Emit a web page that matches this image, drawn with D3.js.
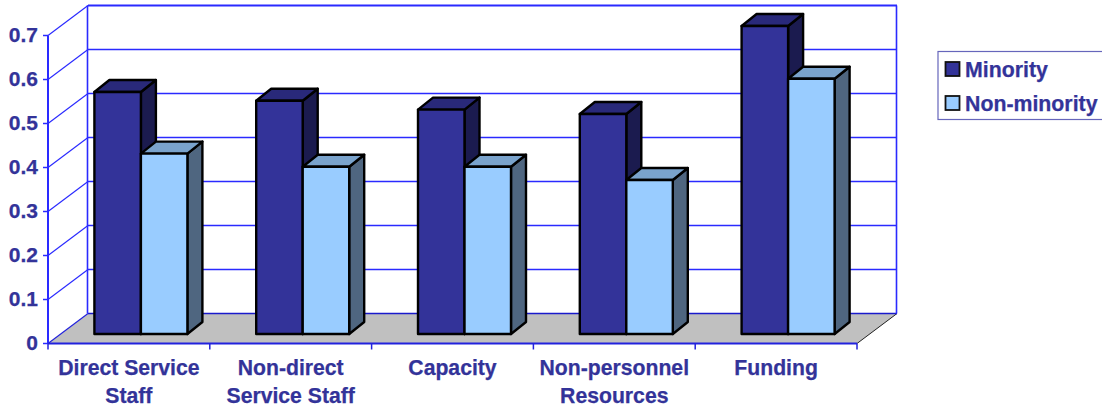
<!DOCTYPE html>
<html><head><meta charset="utf-8">
<script src="https://cdn.jsdelivr.net/npm/d3@7"></script>
<style>html,body{margin:0;padding:0;background:#fff;overflow:hidden}svg{display:block}text{font-family:"Liberation Sans",Arial,sans-serif;font-weight:bold;fill:#333399;stroke:#333399;stroke-width:0.25px}</style>
</head><body><svg id="c" width="1102" height="408"></svg>
<script>
const categories = ["Direct Service|Staff","Non-direct|Service Staff","Capacity","Non-personnel|Resources","Funding"];
const seriesNames = ["Minority","Non-minority"];
const minority = [0.55,0.53,0.51,0.50,0.70];
const nonMinority = [0.41,0.38,0.38,0.35,0.58];
const yTicks = [0,0.1,0.2,0.3,0.4,0.5,0.6,0.7];
const frontColors = ["#333399","#99ccff"];
const topColors = ["#29297a","#7aa3cc"];
const sideColors = ["#1b1b4f","#4f6680"];

const svg = d3.select("#c");
const x = d3.scaleBand().domain(categories).range([48,857]);
const y = d3.scaleLinear().domain([0,0.7]).range([343.5,35.5]);
const depth = {dx:40, dy:-30};      // wall depth
const barOff = {dx:12, dy:-9.5};    // bar front plane offset from axis plane
const barDepth = {dx:15, dy:-12};
const barW = 46.5;
const blue = "#2a2aff";
const poly = pts => pts.map(p=>p.join(",")).join(" ");

// floor
svg.append("polygon").attr("fill","#c0c0c0")
  .attr("points",poly([[48,y(0)],[48+depth.dx,y(0)+depth.dy],[857+depth.dx,y(0)+depth.dy],[857,y(0)]]));
svg.append("line").attr("x1",857).attr("y1",y(0)).attr("x2",857+depth.dx).attr("y2",y(0)+depth.dy).attr("stroke","#222").attr("stroke-width",1);

// walls + grid
yTicks.forEach(t=>{
  const top = t===0.7, w = top?2.2:1.5;
  svg.append("line").attr("x1",48).attr("y1",y(t)).attr("x2",48+depth.dx).attr("y2",y(t)+depth.dy).attr("stroke",t===0?"#2222dd":blue).attr("stroke-width",1.2);
  svg.append("line").attr("x1",48+depth.dx).attr("y1",y(t)+depth.dy).attr("x2",857+depth.dx).attr("y2",y(t)+depth.dy).attr("stroke",t===0?"#1a1acc":blue).attr("stroke-width",w);
});
svg.append("line").attr("x1",87.5).attr("x2",87.5).attr("y1",y(0.7)+depth.dy).attr("y2",y(0)+depth.dy).attr("stroke",blue).attr("stroke-width",1.6);
svg.append("line").attr("x1",896.5).attr("x2",896.5).attr("y1",y(0.7)+depth.dy).attr("y2",y(0)+depth.dy).attr("stroke",blue).attr("stroke-width",1.6);

// front axes
svg.append("line").attr("x1",48).attr("x2",48).attr("y1",y(0.7)).attr("y2",y(0)).attr("stroke",blue).attr("stroke-width",2);
svg.append("line").attr("x1",48).attr("x2",857).attr("y1",y(0)).attr("y2",y(0)).attr("stroke","#2222dd").attr("stroke-width",2);
yTicks.forEach(t=>{
  svg.append("line").attr("x1",43).attr("x2",48).attr("y1",y(t)).attr("y2",y(t)).attr("stroke",blue).attr("stroke-width",1.5);
  svg.append("text").attr("x",38).attr("y",y(t)+6.5).attr("text-anchor","end").attr("font-size",21).text(t===0?"0":t.toFixed(1));
});
[0,1,2,3,4,5].forEach(i=>{
  const px = i<5 ? x(categories[i]) : 857;
  svg.append("line").attr("x1",px).attr("x2",px).attr("y1",y(0)).attr("y2",y(0)+6).attr("stroke","#2222dd").attr("stroke-width",1.5);
});

// bars
const allSeries = [minority,nonMinority];
categories.forEach((c,i)=>{
  const cx = x(c)+x.bandwidth()/2+barOff.dx;
  allSeries.forEach((vals,s)=>{
    const x0 = cx+(s-1)*barW, x1 = x0+barW;
    const yb = y(0)+barOff.dy, yt = y(vals[i])+barOff.dy;
    const g = svg.append("g").attr("stroke","#000").attr("stroke-width",2.4).attr("stroke-linejoin","round");
    g.append("polygon").attr("fill",sideColors[s]).attr("points",poly([[x1,yt],[x1+barDepth.dx,yt+barDepth.dy],[x1+barDepth.dx,yb+barDepth.dy],[x1,yb]]));
    g.append("polygon").attr("fill",topColors[s]).attr("points",poly([[x0,yt],[x0+barDepth.dx,yt+barDepth.dy],[x1+barDepth.dx,yt+barDepth.dy],[x1,yt]]));
    g.append("rect").attr("fill",frontColors[s]).attr("x",x0).attr("y",yt).attr("width",barW).attr("height",yb-yt);
  });
});

// category labels
categories.forEach(c=>{
  c.split("|").forEach((ln,k)=>{
    svg.append("text").attr("x",x(c)+x.bandwidth()/2).attr("y",374.5+k*28).attr("text-anchor","middle").attr("font-size",21.2).text(ln);
  });
});

// legend
svg.append("rect").attr("x",938).attr("y",51.5).attr("width",170).attr("height",68).attr("fill","#fff").attr("stroke","#6666bb").attr("stroke-width",1.2);
seriesNames.forEach((n,i)=>{
  const yy = 69.5+i*34;
  svg.append("rect").attr("x",945.5).attr("y",yy-7.5).attr("width",14).attr("height",14).attr("fill",frontColors[i]).attr("stroke","#111").attr("stroke-width",1.8);
  svg.append("text").attr("x",965).attr("y",yy+7).attr("font-size",21.3).text(n);
});
</script></body></html>
